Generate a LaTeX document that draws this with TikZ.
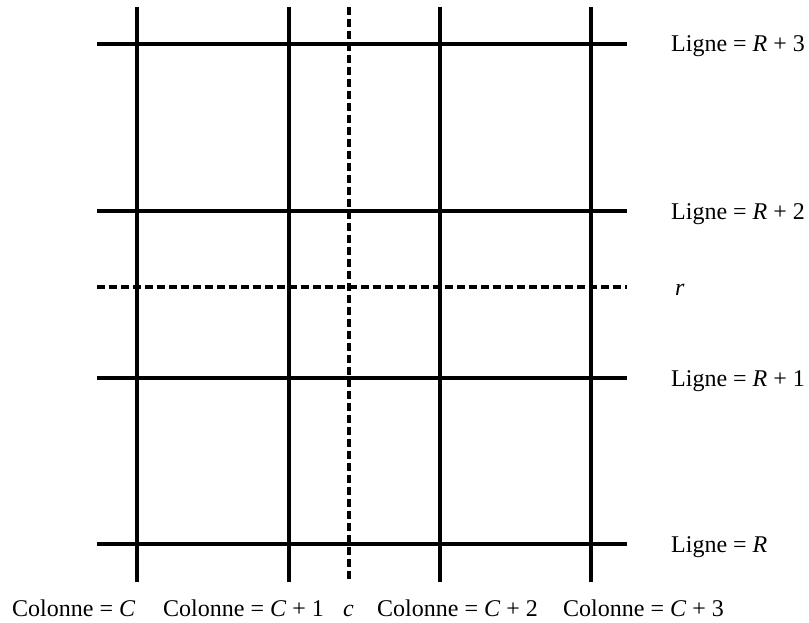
\documentclass[tikz,border=0pt]{standalone}
\usepackage{fontspec}
\setmainfont{Liberation Serif}
\begin{document}
\begin{tikzpicture}[x=1pt,y=-1pt,
  gridline/.style={line width=3.4pt},
  dashline/.style={line width=3.4pt,dash pattern=on 8pt off 4pt},
  lab/.style={anchor=base west,inner sep=0pt,font=\fontsize{24}{28}\selectfont}]
\useasboundingbox (0,0) rectangle (809,623);
% vertical line endpoints
\foreach \n/\x in {c0/137,c1/289,cd/349,c2/440,c3/591}{
  \coordinate (\n t) at (\x,7);
  \coordinate (\n b) at (\x,582);
}
% horizontal line endpoints
\foreach \n/\y in {r3/44,r2/211,rd/287,r1/378,r0/544}{
  \coordinate (\n l) at (97,\y);
  \coordinate (\n r) at (627,\y);
}
\draw[gridline] (c0t) -- (c0b);
\draw[gridline] (c1t) -- (c1b);
\draw[dashline] (cdt) -- (cdb);
\draw[gridline] (c2t) -- (c2b);
\draw[gridline] (c3t) -- (c3b);
\draw[gridline] (r3l) -- (r3r);
\draw[gridline] (r2l) -- (r2r);
\draw[dashline] (rdl) -- (rdr);
\draw[gridline] (r1l) -- (r1r);
\draw[gridline] (r0l) -- (r0r);
% row labels
\node[lab] (l3) at (671,52) {Ligne = \textit{R} + 3};
\node[lab] (l2) at (671,219) {Ligne = \textit{R} + 2};
\node[lab] (lr) at (675,295) {\textit{r}};
\node[lab] (l1) at (671,386) {Ligne = \textit{R} + 1};
\node[lab] (l0) at (671,552) {Ligne = \textit{R}};
% column labels
\node[lab] (k0) at (12,616) {Colonne = \textit{C}};
\node[lab] (k1) at (163,616) {Colonne = \textit{C} + 1};
\node[lab] (kc) at (343,616) {\textit{c}};
\node[lab] (k2) at (377,616) {Colonne = \textit{C} + 2};
\node[lab] (k3) at (563,616) {Colonne = \textit{C} + 3};
\end{tikzpicture}
\end{document}
